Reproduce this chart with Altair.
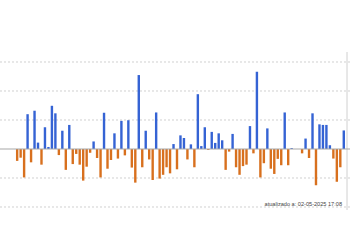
import altair as alt
import pandas as pd

valores = [
    -0.41, -0.30, -0.98, 1.20, -0.46, 1.32, 0.22, -0.54, 0.75, 0.07, 1.49, 1.23, -0.21, 0.63,
    -0.72, 0.83, -0.52, -0.17, -0.54, -1.09, -0.61, -0.13, 0.26, -0.31, -0.98, 1.25, -0.68, -0.38, 0.54, -0.33,
    0.97, -0.22, 0.99, -0.64, -1.16, 2.55, -0.63, 0.63, -0.36, -1.07, 1.26, -1.02, -0.89, -0.63, -0.84, 0.17,
    -0.70, 0.47, 0.38, -0.36, 0.16, -0.63, 1.89, 0.10, 0.75, -0.03, 0.59, 0.21, 0.54, 0.30, -0.72, -0.09, 0.52,
    -0.63, -0.89, -0.59, -0.54, 0.79, -0.15, 2.66, -0.98, -0.49, 0.71, -0.68, -0.86, -0.34, -0.56, 1.26,
    -0.56, 0.03, 0.0, 0.0, -0.15, 0.36, -0.31, 1.23, -1.25, 0.85, 0.83, 0.83, 0.13, -0.33, -1.13, -0.63, 0.64,
]
dias = list(range(len(valores)))
grelha = [-2, -1, 1, 2, 3]
nota = "atualizado a: 02-05-2025 17:08"

df = pd.DataFrame({"dia": dias, "valor": valores})
df["sinal"] = ["pos" if v >= 0 else "neg" for v in valores]

xs = alt.Scale(domain=[-3.5, 94.35], nice=False, zero=False)
ys = alt.Scale(domain=[-3.483, 5.138], nice=False, zero=False)

grid = alt.Chart(pd.DataFrame({"g": grelha})).mark_rule(
    color="#d0d0d0", strokeDash=[2, 2], strokeWidth=1
).encode(
    y=alt.Y("g:Q", scale=ys, axis=None),
    x=alt.value(0), x2=alt.value(350),
)

bars = alt.Chart(df).mark_bar(size=2.4).encode(
    x=alt.X("dia:Q", scale=xs, axis=None),
    y=alt.Y("valor:Q", scale=ys, axis=None),
    y2=alt.datum(0),
    color=alt.Color("sinal:N", scale=alt.Scale(domain=["pos", "neg"], range=["#3563d4", "#d8701e"]), legend=None),
)

zero = alt.Chart(pd.DataFrame({"z": [0]})).mark_rule(color="#a8a8a8", strokeWidth=1.2).encode(
    y=alt.Y("z:Q", scale=ys, axis=None),
    x=alt.value(0), x2=alt.value(350),
)

vline = alt.Chart(pd.DataFrame({"v": [0]})).mark_rule(color="#d0d0d0", strokeWidth=1).encode(
    x=alt.value(347), y=alt.value(52), y2=alt.value(210),
)

txt = alt.Chart(pd.DataFrame({"t": [nota]})).mark_text(
    align="right", baseline="middle", fontSize=5.6, color="#444", font="Arial"
).encode(
    text="t:N", x=alt.value(342), y=alt.value(203.5),
)

chart = alt.layer(grid, vline, bars, zero, txt).properties(
    width=350, height=250, autosize=alt.AutoSizeParams(type="none"), padding=0
).configure_view(stroke=None).resolve_scale(y="shared", x="shared")

chart.save("out.html", embed_options={"renderer": "svg", "actions": False})
